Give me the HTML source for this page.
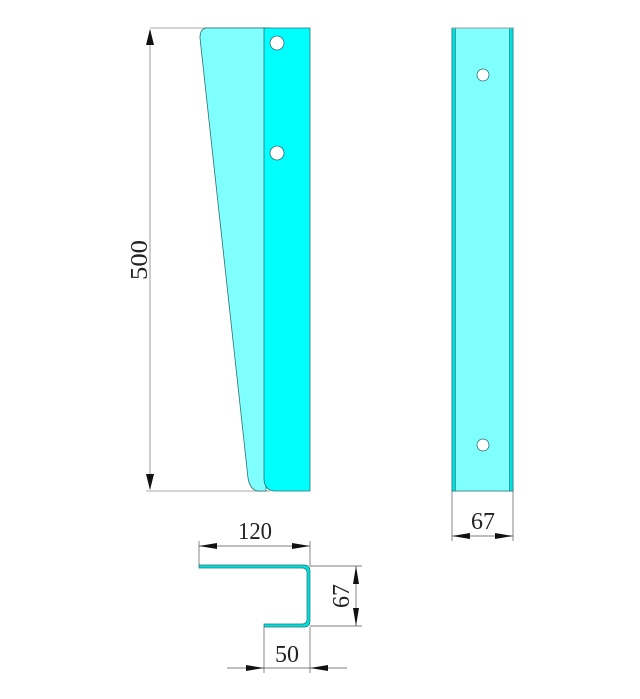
<!DOCTYPE html>
<html><head><meta charset="utf-8"><style>
html,body{margin:0;padding:0;background:#fff;}
svg{display:block;}
text{font-family:"Liberation Serif",serif;fill:#222;}
</style></head><body>
<svg width="640" height="699" viewBox="0 0 640 699" xmlns="http://www.w3.org/2000/svg">
<line x1="150" y1="28" x2="270" y2="28" stroke="#bbb" stroke-width="1.2"/>
<line x1="146" y1="491" x2="270" y2="491" stroke="#bbb" stroke-width="1.2"/>
<line x1="150" y1="30" x2="150" y2="489" stroke="#bbb" stroke-width="1.5"/>
<polygon points="150,29 146,45 154,45" fill="#111"/>
<polygon points="150,490 146,474 154,474" fill="#111"/>
<text transform="translate(147,260) rotate(-90)" font-size="24" text-anchor="middle" textLength="40" lengthAdjust="spacingAndGlyphs">500</text>
<path d="M206,28 L266,28 L266,491 L258,491 Q250,490 248,478 L200,38 Q200,29 206,28 Z" fill="#80ffff" stroke="#2a7070" stroke-width="0.8"/>
<path d="M264,28 L310,28 L310,491 L274,491 Q264,490 264,478 Z" fill="#00ffff" stroke="#2a7070" stroke-width="0.8"/>
<circle cx="277" cy="43" r="7" fill="#fff" stroke="#2a7070" stroke-width="0.8"/>
<circle cx="277" cy="153" r="7" fill="#fff" stroke="#2a7070" stroke-width="0.8"/>
<rect x="452" y="28" width="61" height="463" fill="#80ffff" stroke="#2a7070" stroke-width="0.8"/>
<rect x="452" y="28" width="3.5" height="463" fill="#00e0e0" stroke="#2a7070" stroke-width="0.6"/>
<rect x="509.5" y="28" width="3.5" height="463" fill="#00e0e0" stroke="#2a7070" stroke-width="0.6"/>
<line x1="452" y1="28" x2="513" y2="28" stroke="#999" stroke-width="1"/>
<circle cx="483" cy="75" r="6" fill="#fff" stroke="#2a7070" stroke-width="0.8"/>
<circle cx="483" cy="445" r="6" fill="#fff" stroke="#2a7070" stroke-width="0.8"/>
<line x1="452" y1="491" x2="452" y2="541" stroke="#555" stroke-width="0.7"/>
<line x1="513" y1="491" x2="513" y2="541" stroke="#555" stroke-width="0.7"/>
<line x1="452" y1="536" x2="513" y2="536" stroke="#555" stroke-width="0.7"/>
<polygon points="452,536 470,533 470,539" fill="#111"/>
<polygon points="513,536 495,533 495,539" fill="#111"/>
<text x="483" y="529" font-size="24" text-anchor="middle" textLength="24" lengthAdjust="spacingAndGlyphs">67</text>
<line x1="199" y1="541" x2="199" y2="566" stroke="#555" stroke-width="0.7"/>
<line x1="310" y1="541" x2="310" y2="566" stroke="#555" stroke-width="0.7"/>
<line x1="199" y1="546" x2="310" y2="546" stroke="#555" stroke-width="0.7"/>
<polygon points="199,546 217,543 217,549" fill="#111"/>
<polygon points="310,546 292,543 292,549" fill="#111"/>
<text x="255" y="539" font-size="24" text-anchor="middle" textLength="34" lengthAdjust="spacingAndGlyphs">120</text>
<path d="M199,565 L304,565 Q310,565 310,571 L310,621 Q310,627 304,627 L264,627 L264,624 L302,624 Q307,624 307,619 L307,573 Q307,568 302,568 L199,568 Z" fill="#00e0e0" stroke="#2a7070" stroke-width="0.7"/>
<line x1="310" y1="566" x2="362" y2="566" stroke="#555" stroke-width="0.7"/>
<line x1="310" y1="626" x2="362" y2="626" stroke="#555" stroke-width="0.7"/>
<line x1="356" y1="566" x2="356" y2="626" stroke="#555" stroke-width="0.7"/>
<polygon points="356,566 353,584 359,584" fill="#111"/>
<polygon points="356,626 353,608 359,608" fill="#111"/>
<text transform="translate(349,596) rotate(-90)" font-size="24" text-anchor="middle" textLength="24" lengthAdjust="spacingAndGlyphs">67</text>
<line x1="264" y1="627" x2="264" y2="673" stroke="#555" stroke-width="0.7"/>
<line x1="310" y1="627" x2="310" y2="673" stroke="#555" stroke-width="0.7"/>
<line x1="227" y1="668" x2="347" y2="668" stroke="#555" stroke-width="0.7"/>
<polygon points="264,668 246,665 246,671" fill="#111"/>
<polygon points="310,668 328,665 328,671" fill="#111"/>
<text x="287" y="662" font-size="24" text-anchor="middle" textLength="24" lengthAdjust="spacingAndGlyphs">50</text>
</svg>
</body></html>
